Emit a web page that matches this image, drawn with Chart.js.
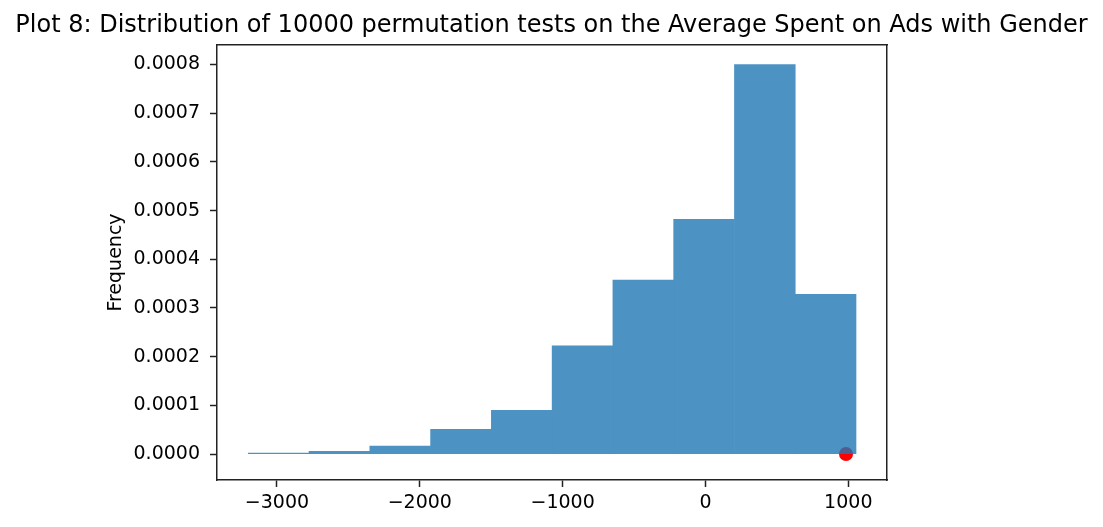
<!DOCTYPE html>
<html>
<head>
<meta charset="utf-8">
<script src="https://cdn.jsdelivr.net/npm/chart.js@4/dist/chart.umd.min.js"></script>
<style>
  html, body { margin: 0; padding: 0; background: #fff; }
  #wrap { width: 1103px; height: 527px; }
</style>
</head>
<body>
<div id="wrap"><canvas id="hist"></canvas></div>
<script>
// bin edges of the histogram (10 bins) and the density of each bin
const binEdges = [-3201, -2775.5, -2350, -1924.5, -1499, -1073.5, -648, -222.5, 203, 628.5, 1054];
const density = [0.0000018, 0.0000055, 0.0000164, 0.000051, 0.000090, 0.000222, 0.000357, 0.000482, 0.000800, 0.000328];
// observed difference (red dot)
const observed = [{ x: 984, y: 0 }];
const xTicks = [-3000, -2000, -1000, 0, 1000];

const last = density.length - 1;
// drawn right to left so the opaque bars cover the seam of the see-through last bin
const binData = density.map((d, i) => ({ x: (binEdges[i] + binEdges[i + 1]) / 2, y: d })).reverse();
// last bin sits over the red dot, so it keeps the real alpha; the others use the same colour flat
const binColors = density.map((d, i) => i === last ? 'rgba(31,119,180,0.8)' : 'rgb(76,146,195)').reverse();

const FONT = 'DejaVu Sans';
const minus = v => (v < 0 ? '\u2212' : '') + Math.abs(v);

new Chart(document.getElementById('hist'), {
    type: 'bar',
    data: {
        datasets: [
            {
                type: 'bar',
                data: binData,
                backgroundColor: binColors,
                borderWidth: 0,
                barPercentage: 1.0,
                categoryPercentage: 1.0,
                order: 1
            },
            {
                type: 'scatter',
                data: observed,
                backgroundColor: 'red',
                borderWidth: 0,
                pointRadius: 7,
                order: 2
            }
        ]
    },
    options: {
        responsive: true,
        maintainAspectRatio: false,
        animation: false,
        layout: { padding: 0 },
        plugins: {
            legend: { display: false },
            tooltip: { enabled: false },
            title: {
                display: true,
                text: 'Plot 8: Distribution of 10000 permutation tests on the Average Spent on Ads with Gender',
                color: '#000',
                font: { family: FONT, size: 24, weight: 'normal' },
                padding: { top: 11.6, bottom: 4.6 }
            }
        },
        scales: {
            x: {
                type: 'linear',
                offset: false,
                min: -3420,
                max: 1271,
                afterFit: s => { s.height = 47; },
                afterBuildTicks: s => { s.ticks = xTicks.map(v => ({ value: v })); },
                ticks: {
                    color: '#000',
                    font: { family: FONT, size: 19 },
                    padding: 5,
                    maxRotation: 0,
                    callback: v => minus(v)
                },
                grid: { display: true, offset: false, drawOnChartArea: false, tickLength: 7, tickColor: '#222', tickWidth: 1.5 },
                border: { display: true, color: '#222', width: 1.5 }
            },
            y: {
                min: -0.0000533,
                max: 0.00084,
                afterFit: s => { s.width = 217; },
                ticks: {
                    stepSize: 0.0001,
                    includeBounds: false,
                    color: '#000',
                    font: { family: FONT, size: 19 },
                    padding: 10,
                    callback: v => (Math.abs(v) < 1e-12 ? 0 : v).toFixed(4)
                },
                title: {
                    display: true,
                    text: 'Frequency',
                    color: '#000',
                    font: { family: FONT, size: 19 },
                    padding: { top: 105, bottom: 0 }
                },
                grid: { display: true, drawOnChartArea: false, tickLength: 7, tickColor: '#222', tickWidth: 1.5 },
                border: { display: true, color: '#222', width: 1.5 }
            },
            // empty axes only used for the top and right frame lines
            xTop: {
                type: 'linear',
                position: 'top',
                afterFit: s => { s.height = 0; },
                ticks: { display: false },
                grid: { display: true, drawOnChartArea: false, drawTicks: false },
                border: { display: true, color: '#222', width: 1.5 }
            },
            yRight: {
                type: 'linear',
                position: 'right',
                afterFit: s => { s.width = 216; },
                ticks: { display: false },
                grid: { display: true, drawOnChartArea: false, drawTicks: false },
                border: { display: true, color: '#222', width: 1.5 }
            }
        }
    }
});
</script>
</body>
</html>
